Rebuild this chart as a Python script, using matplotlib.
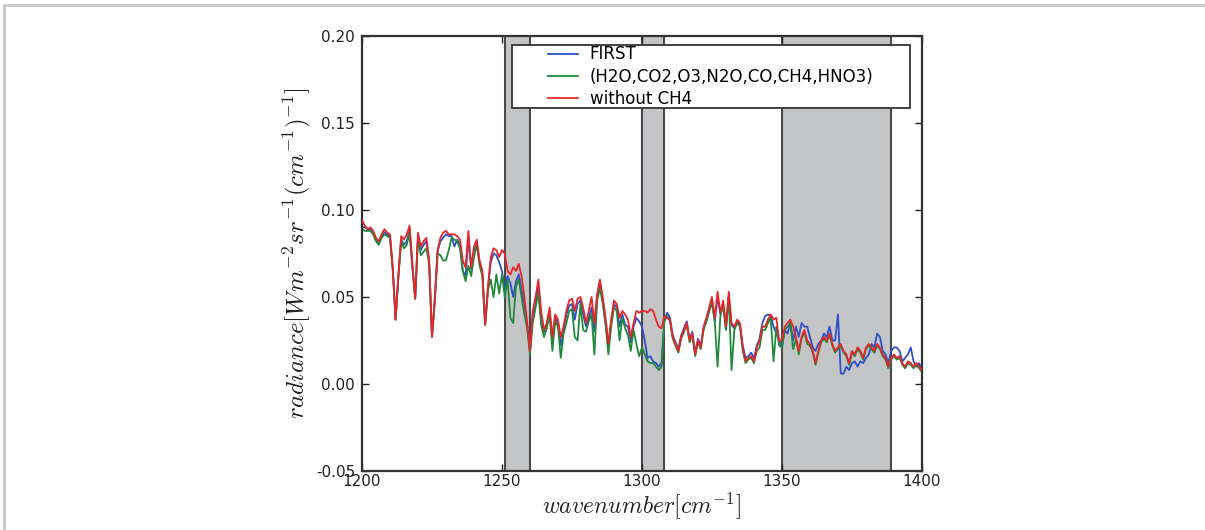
import numpy as np
import matplotlib
matplotlib.use('Agg')
import matplotlib.pyplot as plt
from matplotlib.lines import Line2D
from matplotlib.patches import Rectangle

plt.rcParams['mathtext.fontset'] = 'cm'
plt.rcParams['font.family'] = ['DejaVu Sans']

# wavenumber grid, 1 cm^-1 step, 1200..1400
wavenumber = np.arange(1200, 1401)

# radiance (W m^-2 sr^-1 (cm^-1)^-1)
without_ch4 = [
    0.094, 0.091, 0.089, 0.090, 0.088, 0.084, 0.082, 0.086, 0.089, 0.087,
    0.086, 0.067, 0.037, 0.063, 0.085, 0.083, 0.086, 0.091, 0.069, 0.049,
    0.087, 0.079, 0.082, 0.084, 0.071, 0.027, 0.048, 0.077, 0.084, 0.087,
    0.088, 0.086, 0.086, 0.086, 0.085, 0.083, 0.071, 0.067, 0.088, 0.067,
    0.079, 0.083, 0.071, 0.065, 0.034, 0.056, 0.073, 0.078, 0.077, 0.073,
    0.077, 0.075, 0.065, 0.063, 0.067, 0.065, 0.069, 0.062, 0.050, 0.035,
    0.019, 0.042, 0.050, 0.060, 0.042, 0.031, 0.035, 0.044, 0.027, 0.040,
    0.037, 0.027, 0.033, 0.042, 0.048, 0.049, 0.042, 0.049, 0.050, 0.044,
    0.035, 0.042, 0.050, 0.035, 0.052, 0.060, 0.050, 0.038, 0.023, 0.037,
    0.048, 0.046, 0.038, 0.042, 0.040, 0.037, 0.027, 0.035, 0.042, 0.041,
    0.042, 0.042, 0.041, 0.043, 0.042, 0.037, 0.033, 0.032, 0.039, 0.038,
    0.037, 0.027, 0.023, 0.019, 0.027, 0.031, 0.035, 0.025, 0.029, 0.017,
    0.025, 0.021, 0.033, 0.038, 0.044, 0.050, 0.038, 0.053, 0.041, 0.048,
    0.033, 0.053, 0.035, 0.033, 0.037, 0.035, 0.021, 0.013, 0.015, 0.016,
    0.013, 0.021, 0.025, 0.033, 0.033, 0.037, 0.040, 0.037, 0.038, 0.025,
    0.025, 0.033, 0.035, 0.037, 0.033, 0.027, 0.019, 0.027, 0.031, 0.025,
    0.023, 0.019, 0.012, 0.019, 0.025, 0.027, 0.025, 0.029, 0.023, 0.019,
    0.021, 0.023, 0.019, 0.017, 0.012, 0.019, 0.017, 0.021, 0.019, 0.015,
    0.021, 0.023, 0.021, 0.019, 0.023, 0.021, 0.017, 0.015, 0.010, 0.015,
    0.017, 0.015, 0.016, 0.012, 0.010, 0.013, 0.012, 0.010, 0.012, 0.010,
    0.008,
]

first = [
    0.090, 0.090, 0.089, 0.089, 0.087, 0.083, 0.081, 0.085, 0.087, 0.086,
    0.085, 0.066, 0.037, 0.062, 0.083, 0.080, 0.082, 0.089, 0.068, 0.049,
    0.085, 0.077, 0.080, 0.082, 0.070, 0.027, 0.048, 0.076, 0.082, 0.084,
    0.086, 0.085, 0.085, 0.079, 0.083, 0.080, 0.065, 0.062, 0.084, 0.066,
    0.077, 0.081, 0.070, 0.063, 0.034, 0.055, 0.070, 0.075, 0.074, 0.070,
    0.065, 0.054, 0.062, 0.058, 0.050, 0.059, 0.063, 0.054, 0.045, 0.034,
    0.019, 0.040, 0.047, 0.056, 0.038, 0.030, 0.034, 0.042, 0.024, 0.038,
    0.035, 0.022, 0.031, 0.040, 0.045, 0.046, 0.037, 0.046, 0.048, 0.040,
    0.033, 0.038, 0.044, 0.030, 0.050, 0.057, 0.048, 0.036, 0.022, 0.035,
    0.046, 0.044, 0.033, 0.040, 0.034, 0.033, 0.024, 0.033, 0.038, 0.036,
    0.033, 0.025, 0.015, 0.016, 0.013, 0.012, 0.010, 0.012, 0.037, 0.041,
    0.038, 0.028, 0.024, 0.020, 0.028, 0.032, 0.036, 0.026, 0.030, 0.018,
    0.026, 0.022, 0.032, 0.036, 0.042, 0.047, 0.036, 0.050, 0.040, 0.046,
    0.032, 0.051, 0.034, 0.032, 0.036, 0.034, 0.022, 0.015, 0.016, 0.018,
    0.015, 0.022, 0.026, 0.035, 0.039, 0.040, 0.039, 0.033, 0.029, 0.025,
    0.021, 0.031, 0.029, 0.035, 0.025, 0.033, 0.027, 0.035, 0.033, 0.033,
    0.027, 0.021, 0.019, 0.023, 0.025, 0.029, 0.027, 0.033, 0.025, 0.025,
    0.040, 0.006, 0.006, 0.010, 0.008, 0.012, 0.013, 0.010, 0.013, 0.012,
    0.015, 0.017, 0.023, 0.021, 0.029, 0.027, 0.019, 0.017, 0.012, 0.019,
    0.021, 0.021, 0.019, 0.013, 0.015, 0.017, 0.021, 0.013, 0.010, 0.012,
    0.007,
]

all_gases = [
    0.089, 0.088, 0.088, 0.088, 0.086, 0.082, 0.080, 0.084, 0.086, 0.085,
    0.084, 0.065, 0.037, 0.061, 0.082, 0.078, 0.080, 0.087, 0.067, 0.049,
    0.084, 0.074, 0.076, 0.078, 0.069, 0.027, 0.048, 0.075, 0.074, 0.071,
    0.071, 0.077, 0.084, 0.083, 0.082, 0.078, 0.065, 0.059, 0.068, 0.062,
    0.073, 0.080, 0.068, 0.062, 0.034, 0.054, 0.060, 0.050, 0.063, 0.052,
    0.063, 0.050, 0.060, 0.038, 0.035, 0.056, 0.060, 0.050, 0.040, 0.032,
    0.017, 0.035, 0.044, 0.052, 0.034, 0.027, 0.032, 0.040, 0.019, 0.036,
    0.033, 0.015, 0.029, 0.035, 0.042, 0.043, 0.027, 0.025, 0.046, 0.031,
    0.030, 0.036, 0.040, 0.017, 0.048, 0.055, 0.046, 0.034, 0.017, 0.033,
    0.044, 0.042, 0.025, 0.038, 0.032, 0.028, 0.019, 0.031, 0.023, 0.016,
    0.021, 0.017, 0.013, 0.012, 0.012, 0.010, 0.008, 0.010, 0.036, 0.039,
    0.036, 0.026, 0.022, 0.018, 0.026, 0.030, 0.034, 0.024, 0.028, 0.016,
    0.024, 0.020, 0.031, 0.036, 0.042, 0.047, 0.036, 0.010, 0.039, 0.045,
    0.031, 0.050, 0.008, 0.031, 0.035, 0.033, 0.019, 0.012, 0.014, 0.015,
    0.012, 0.019, 0.021, 0.031, 0.031, 0.035, 0.038, 0.013, 0.033, 0.022,
    0.021, 0.031, 0.033, 0.035, 0.020, 0.026, 0.017, 0.026, 0.030, 0.023,
    0.022, 0.018, 0.011, 0.018, 0.024, 0.026, 0.024, 0.028, 0.022, 0.018,
    0.020, 0.022, 0.018, 0.016, 0.011, 0.018, 0.016, 0.020, 0.018, 0.014,
    0.020, 0.022, 0.020, 0.018, 0.022, 0.020, 0.016, 0.014, 0.009, 0.014,
    0.016, 0.014, 0.015, 0.011, 0.009, 0.012, 0.011, 0.009, 0.011, 0.009,
    0.007,
]

series_labels = ['FIRST', '(H2O,CO2,O3,N2O,CO,CH4,HNO3)', 'without CH4']
band_starts = [1251, 1300, 1350]
band_ends = [1260, 1308, 1389]
xticks = [1200, 1250, 1300, 1350, 1400]
yticks = [-0.05, 0.00, 0.05, 0.10, 0.15, 0.20]

fig = plt.figure(figsize=(12.05, 5.30), dpi=100)
ax = fig.add_axes([0.3004, 0.1113, 0.4647, 0.8208])

for s, e in zip(band_starts, band_ends):
    ax.axvspan(s, e, facecolor='#c4c5c7', edgecolor='#4a4a4a', linewidth=1.5, zorder=1)

ax.plot(wavenumber, first, color='#2f4fc8', lw=1.3, zorder=2)
ax.plot(wavenumber, all_gases, color='#1f8a3a', lw=1.3, zorder=2)
ax.plot(wavenumber, without_ch4, color='#e8262a', lw=1.3, zorder=3)

ax.set_xlim(1200, 1400)
ax.set_ylim(-0.05, 0.20)
ax.set_xticks(xticks)
ax.set_yticks(yticks)
ax.set_yticklabels(['%.2f' % v for v in yticks])
ax.tick_params(direction='in', top=True, right=True, labelsize=11,
               length=5, width=1, colors='#222222', pad=5)
ax.tick_params(axis='x', pad=2)
for sp in ax.spines.values():
    sp.set_linewidth(1.6)
    sp.set_color('#333333')

ax.set_xlabel(r'$wavenumber[cm^{-1}]$', fontsize=17, color='#222222', labelpad=1)
ax.set_ylabel(r'$radiance[Wm^{-2}sr^{-1}(cm^{-1})^{-1}]$', fontsize=18,
              color='#222222', labelpad=2)

# legend box
ax.add_patch(Rectangle((0.268, 0.834), 0.711, 0.145, transform=ax.transAxes,
                       facecolor='white', edgecolor='#333333', linewidth=1.3, zorder=4))
handles = [Line2D([], [], color=c, lw=1.3) for c in ['#2f4fc8', '#1f8a3a', '#e8262a']]
leg = ax.legend(handles, series_labels, loc='center left', bbox_to_anchor=(0.332, 0.9065),
                frameon=False, fontsize=12, borderpad=0, borderaxespad=0,
                handlelength=1.8, handletextpad=0.7, labelspacing=0.25)
leg.set_zorder(5)

# thin frame around the picture (top and left)
fig.add_artist(Line2D([0.0037, 1.0], [0.990, 0.990], transform=fig.transFigure,
                      color='#c8c8c8', lw=2))
fig.add_artist(Line2D([0.0037, 0.0037], [0.0, 0.990], transform=fig.transFigure,
                      color='#c8c8c8', lw=2))

fig.savefig('out.png', dpi=100)
